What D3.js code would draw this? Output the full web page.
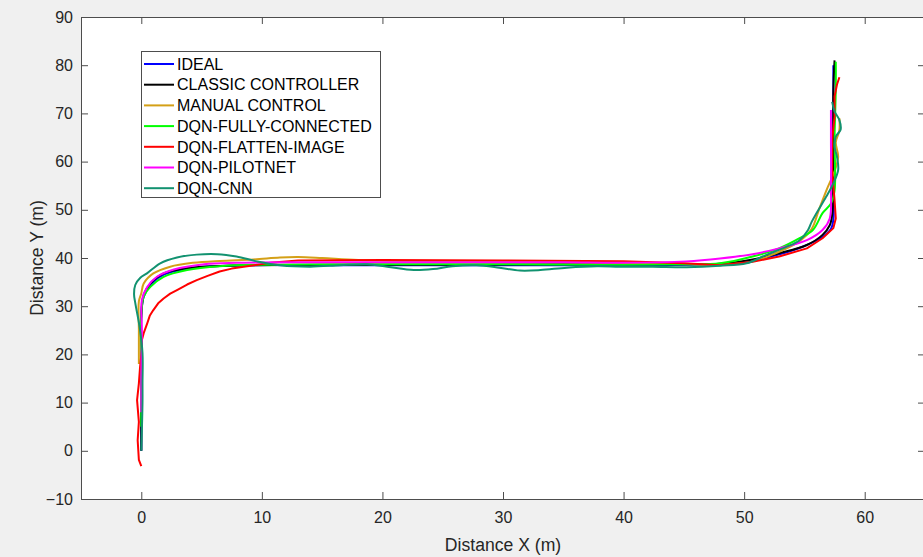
<!DOCTYPE html>
<html>
<head>
<meta charset="utf-8">
<script src="https://cdn.jsdelivr.net/npm/d3@7"></script>
<style>
  body { margin: 0; background: #f0f0f0; }
  svg { display: block; font-family: "Liberation Sans", Arial, sans-serif; }
</style>
</head>
<body>
<svg id="chart"></svg>
<script>
// series names / colours (legend order = draw order)
var names = ["IDEAL", "CLASSIC CONTROLLER", "MANUAL CONTROL", "DQN-FULLY-CONNECTED", "DQN-FLATTEN-IMAGE", "DQN-PILOTNET", "DQN-CNN"];
var colors = ["#0000ff", "#000000", "#d4a017", "#00ff00", "#ff0000", "#ff00ff", "#129270"];

var xTicks = [0, 10, 20, 30, 40, 50, 60];
var yTicks = [-10, 0, 10, 20, 30, 40, 50, 60, 70, 80, 90];

// trajectories [x, y]
var ideal = [[0,0],[0,10],[0,20],[0,28],[0.2,32],[0.8,34.6],[1.9,36.6],[3.8,37.8],[6,38.3],[9,38.5],[15,38.5],[25,38.5],[35,38.5],[45,38.6],[49,38.9],[51,39.6],[53,40.8],[55,42.5],[56.4,44.2],[57.2,46],[57.4,48],[57.4,55],[57.4,65],[57.4,80]];
var classic = [[0,0],[0,15],[0,28],[0.2,32.3],[0.75,34.7],[1.85,36.8],[3.8,37.9],[6,38.3],[9,38.5],[15,38.6],[25,38.6],[35,38.7],[45,38.7],[48,38.8],[50.7,39.7],[52.9,41],[55.2,42.7],[56.5,44.8],[57.1,46.8],[57.3,49],[57.4,55],[57.4,65],[57.4,75],[57.5,81]];
var manual = [[-0.2,18],[-0.2,25],[-0.2,31],[0,32.7],[0.2,34.7],[1,36.8],[2.4,38.2],[4.3,39],[6.5,39.4],[9.3,39.7],[11.5,40.1],[13,40.2],[15,40],[18,39.6],[25,39.3],[35,39.1],[45,38.8],[48,38.6],[50.7,39.3],[52.9,41.3],[54.6,43.5],[55.6,46],[56.2,50],[56.9,54.5],[57.5,58],[57.8,61],[57.6,64],[57.9,66.5],[57.9,69]];
var fully = [[0,5],[0,15],[0,28],[0.2,32],[0.75,34],[1.85,36.1],[3.8,37.5],[6.5,38.3],[10,38.6],[20,38.7],[30,38.7],[40,38.6],[45,38.7],[48,38.9],[50.7,40.3],[52.9,42],[54.6,44.1],[55.7,45.8],[56.5,49.3],[57.2,51.3],[57.5,54],[57.5,65],[57.6,75],[57.6,80.7]];
var flatten = [[0,-3.2],[-0.2,-1.9],[-0.3,2.2],[-0.2,6],[-0.35,10.5],[-0.2,14],[-0.1,17.4],[0.05,21],[0.05,23],[0.2,24.4],[0.5,26.5],[0.7,28],[1,29.2],[1.4,30.6],[1.85,31.6],[2.4,32.6],[3,33.4],[3.8,34.5],[4.6,35.4],[5.5,36.3],[6.5,37.2],[7.5,37.8],[8.5,38.2],[10.7,39],[13,39.5],[20,39.6],[30,39.5],[40,39.3],[45,38.9],[48,38.5],[50.7,39.2],[52.9,40.3],[55.2,42],[56.5,44.1],[57.4,46.2],[57.6,48.2],[57.5,52],[57.3,58],[57.3,64.5],[57.5,69.3],[57.5,73.5],[57.7,76],[57.9,77.5]];
var pilotnet = [[0,8],[0,15],[0.05,25],[0.05,31.3],[0.5,34],[1.3,36.1],[2.7,37.6],[5.2,38.7],[7.9,39],[15,39.1],[25,39.1],[35,39.1],[39.7,39],[45.2,39.3],[48,39.9],[50.7,40.8],[52.9,42],[55.2,43.7],[56.5,45.8],[57.1,48.2],[57.2,55],[57.2,65],[57.2,70.7]];
var cnn = [[0,0],[0.1,10],[0.1,14],[0.1,20.3],[-0.14,25.7],[-0.5,30.7],[-0.6,32.5],[-0.5,34.4],[-0.08,35.9],[0.47,36.8],[1.57,38.9],[2.96,40.1],[4.6,40.7],[6.3,40.8],[7.9,40.3],[9.6,39.3],[11.5,38.5],[14,38.2],[16.5,38.5],[18.7,38.7],[20.4,38.2],[22.6,37.5],[24.2,37.7],[25.8,38.3],[27.8,38.5],[29.7,38],[31.4,37.4],[33.1,37.5],[35.3,38],[37.8,38.3],[39.7,38.2],[42.4,38.2],[45.2,38.1],[48,38.4],[50.2,38.9],[51.8,40.6],[53.5,42.3],[54.6,43.7],[55.3,45.8],[55.6,47.5],[56,49.3],[56.8,52.7],[57.4,55.5],[57.8,58.3],[57.7,61],[57.5,63.1],[57.6,65.2],[58,66.6],[57.9,68.6],[57.5,70.4],[57.3,72.4]];

var series = [ideal, classic, manual, fully, flatten, pilotnet, cnn];

var W = 923, H = 557;
var pLeft = 81, pRight = 925, pTop = 17, pBottom = 499;

var svg = d3.select("#chart").attr("width", W).attr("height", H);

svg.append("rect").attr("width", W).attr("height", H).attr("fill", "#f0f0f0");

var x = d3.scaleLinear().domain([-5, 65]).range([pLeft, pRight]);
var y = d3.scaleLinear().domain([-10, 90]).range([pBottom, pTop]);

svg.append("defs").append("clipPath").attr("id", "clip")
  .append("rect")
  .attr("x", pLeft).attr("y", pTop)
  .attr("width", pRight - pLeft).attr("height", pBottom - pTop);

svg.append("rect")
  .attr("x", pLeft).attr("y", pTop)
  .attr("width", pRight - pLeft).attr("height", pBottom - pTop)
  .attr("fill", "#ffffff");

// trajectories
var line = d3.line()
  .x(d => x(d[0]))
  .y(d => y(d[1]))
  .curve(d3.curveCatmullRom.alpha(0.5));

var lineJag = d3.line()
  .x(d => x(d[0]))
  .y(d => y(d[1]));

var plot = svg.append("g").attr("clip-path", "url(#clip)");
series.forEach(function (pts, i) {
  plot.append("path")
    .attr("d", names[i] === "DQN-FLATTEN-IMAGE" ? lineJag(pts) : line(pts))
    .attr("fill", "none")
    .attr("stroke", colors[i])
    .attr("stroke-width", 2)
    .attr("stroke-linejoin", "round");
});

// axes
var axisColor = "#4d4d4d";

function styleAxis(g) {
  g.select(".domain").attr("stroke", axisColor);
  g.selectAll(".tick line").attr("stroke", axisColor);
  g.selectAll(".tick text")
    .attr("fill", "#262626")
    .style("font-size", "16px")
    .style("font-family", "'Liberation Sans', Arial, sans-serif");
}

svg.append("g")
  .attr("transform", `translate(0, ${pBottom})`)
  .call(d3.axisBottom(x).tickValues(xTicks).tickSize(-7).tickSizeOuter(0).tickPadding(13))
  .call(styleAxis);

svg.append("g")
  .attr("transform", `translate(0, ${pTop})`)
  .call(d3.axisTop(x).tickValues(xTicks).tickSize(-7).tickSizeOuter(0).tickFormat(""))
  .call(styleAxis);

svg.append("g")
  .attr("transform", `translate(${pLeft}, 0)`)
  .call(d3.axisLeft(y).tickValues(yTicks).tickSize(-7).tickSizeOuter(0).tickPadding(8))
  .call(styleAxis);

svg.append("g")
  .attr("transform", `translate(${pRight}, 0)`)
  .call(d3.axisRight(y).tickValues(yTicks).tickSize(-7).tickSizeOuter(0).tickFormat(""))
  .call(styleAxis);

// axis labels
svg.append("text")
  .attr("x", (pLeft + pRight) / 2)
  .attr("y", 551)
  .attr("text-anchor", "middle")
  .attr("fill", "#262626")
  .style("font-size", "17.6px")
  .text("Distance X (m)");

svg.append("text")
  .attr("transform", `translate(43, ${(pTop + pBottom) / 2}) rotate(-90)`)
  .attr("text-anchor", "middle")
  .attr("fill", "#262626")
  .style("font-size", "17.6px")
  .text("Distance Y (m)");

// legend
var legend = svg.append("g");

legend.append("rect")
  .attr("x", 141.5).attr("y", 51.5)
  .attr("width", 239).attr("height", 146)
  .attr("fill", "#ffffff")
  .attr("stroke", "#4d4d4d")
  .attr("stroke-width", 1);

names.forEach(function (name, i) {
  var ry = 64 + i * 20.7;
  legend.append("line")
    .attr("x1", 144).attr("x2", 174)
    .attr("y1", ry).attr("y2", ry)
    .attr("stroke", colors[i])
    .attr("stroke-width", 2);
  legend.append("text")
    .attr("x", 177)
    .attr("y", ry)
    .attr("dy", "0.36em")
    .attr("fill", "#000000")
    .style("font-size", "16px")
    .text(name);
});
</script>
</body>
</html>
